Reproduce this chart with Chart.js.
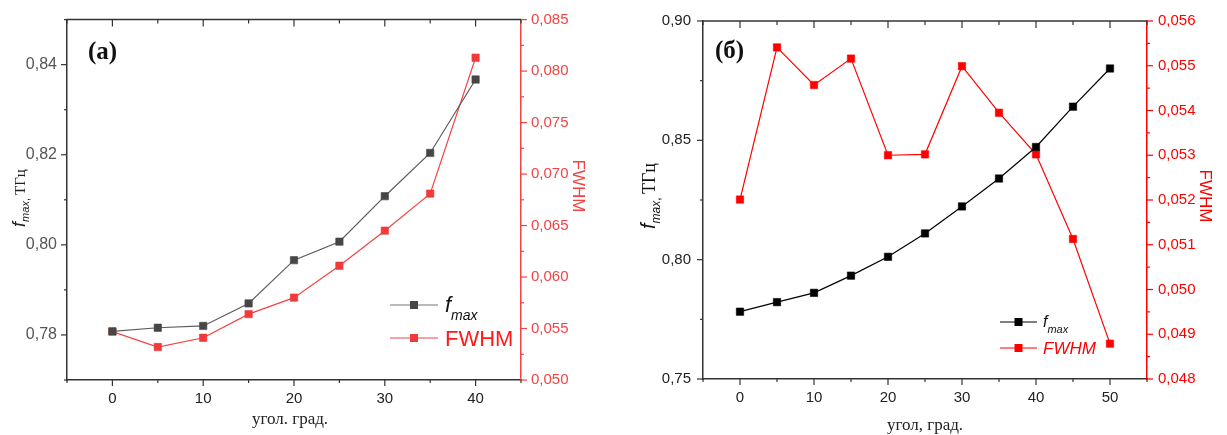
<!DOCTYPE html>
<html lang="ru">
<head>
<meta charset="UTF-8">
<title>f_max и FWHM в зависимости от угла</title>
<script src="https://cdn.jsdelivr.net/npm/chart.js"></script>
<style>
  body { margin: 0; background: #fff; }
  .panel { position: absolute; top: 0; height: 435px; }
  #panelA { left: 0; width: 600px; }
  #panelB { left: 600px; width: 627px; }
</style>
</head>
<body>
<div class="panel" id="panelA"><canvas id="chartA" width="600" height="435"></canvas></div>
<div class="panel" id="panelB"><canvas id="chartB" width="627" height="435"></canvas></div>
<script>
// panel (a)
const anglesA = [0, 5, 10, 15, 20, 25, 30, 35, 40];
const fmaxA = [0.7808, 0.7816, 0.7820, 0.7870, 0.7966, 0.8007, 0.8108, 0.8204, 0.8367];
const fwhmA = [0.0547, 0.0532, 0.0541, 0.0564, 0.0580, 0.0611, 0.0645, 0.0681, 0.0813];
const xTicksA = [0, 10, 20, 30, 40];
const xMinorA = [-5, 5, 15, 25, 35, 45];
const fTicksA = [0.78, 0.80, 0.82, 0.84];
const fMinorA = [0.77, 0.79, 0.81, 0.83, 0.85];
const wTicksA = [0.050, 0.055, 0.060, 0.065, 0.070, 0.075, 0.080, 0.085];
const wMinorA = [0.0525, 0.0575, 0.0625, 0.0675, 0.0725, 0.0775, 0.0825];

// panel (б)
const anglesB = [0, 5, 10, 15, 20, 25, 30, 35, 40, 45, 50];
const fmaxB = [0.7782, 0.7822, 0.7861, 0.7933, 0.8012, 0.8110, 0.8223, 0.8340, 0.8472, 0.8641, 0.8801];
const fwhmB = [0.05201, 0.05541, 0.05457, 0.05516, 0.05300, 0.05302, 0.05499, 0.05395, 0.05302, 0.05113, 0.04879];
const xTicksB = [0, 10, 20, 30, 40, 50];
const xMinorB = [-5, 5, 15, 25, 35, 45, 55];
const fTicksB = [0.75, 0.80, 0.85, 0.90];
const fMinorB = [0.775, 0.825, 0.875];
const wTicksB = [0.048, 0.049, 0.050, 0.051, 0.052, 0.053, 0.054, 0.055, 0.056];
const wMinorB = [0.0485, 0.0495, 0.0505, 0.0515, 0.0525, 0.0535, 0.0545, 0.0555];

const SANS = '"Liberation Sans", Arial, sans-serif';
const SERIF = '"Liberation Serif", "Times New Roman", serif';

const comma = d => v => Number(v).toFixed(d).replace('.', ',');

function axis(pos, min, max, major, fmt, color, labelColor, pad, size, fontSize) {
  return {
    type: 'linear', position: pos, min: min, max: max,
    grid: { display: false, drawTicks: false },
    border: { display: true, color: color, width: 1.5 },
    ticks: { color: labelColor, padding: pad, font: { family: SANS, size: fontSize || 15 }, callback: fmt },
    afterBuildTicks: s => { s.ticks = major.map(v => ({ value: v })); },
    afterFit: s => { if (s.isHorizontal()) s.height = size; else s.width = size; }
  };
}

// text made of pieces with their own font / baseline shift
function richWidth(ctx, parts) {
  let w = 0;
  parts.forEach(p => { ctx.font = p.font; w += ctx.measureText(p.t).width; });
  return w;
}
function drawRich(ctx, parts, x, y) {
  parts.forEach(p => {
    ctx.font = p.font;
    ctx.fillStyle = p.color;
    ctx.fillText(p.t, x, y + (p.dy || 0));
    x += ctx.measureText(p.t).width;
  });
}
function drawRotated(ctx, parts, x, cy, angle) {
  ctx.save();
  ctx.translate(x, cy);
  ctx.rotate(angle);
  drawRich(ctx, parts, -richWidth(ctx, parts) / 2, 0);
  ctx.restore();
}

// top frame line, major/minor tick marks, titles, panel letter and legend
function frame(cfg) {
  return {
    id: 'frame',
    afterDraw(chart) {
      const { ctx, chartArea: a, scales } = chart;
      ctx.save();
      ctx.lineWidth = 1.5;
      ctx.strokeStyle = cfg.axisColor;
      ctx.beginPath();
      ctx.moveTo(a.left - 0.75, a.top);
      ctx.lineTo(a.right, a.top);
      ctx.stroke();

      const seg = (x1, y1, x2, y2) => { ctx.beginPath(); ctx.moveTo(x1, y1); ctx.lineTo(x2, y2); ctx.stroke(); };
      ctx.lineWidth = 1.2;
      const xs = scales.x;
      xs.ticks.forEach(t => {
        const px = xs.getPixelForValue(t.value);
        seg(px, a.bottom, px, a.bottom + 6);
        seg(px, a.top, px, a.top + 7);
      });
      cfg.xMinor.forEach(v => {
        const px = xs.getPixelForValue(v);
        seg(px, a.bottom, px, a.bottom + 3);
        seg(px, a.top, px, a.top + 4);
      });
      const ys = scales.y;
      ys.ticks.forEach(t => { const py = ys.getPixelForValue(t.value); seg(a.left - 6, py, a.left, py); });
      cfg.fMinor.forEach(v => { const py = ys.getPixelForValue(v); seg(a.left - 3, py, a.left, py); });
      const y2 = scales.y2;
      ctx.strokeStyle = cfg.rightColor;
      y2.ticks.forEach(t => { const py = y2.getPixelForValue(t.value); seg(a.right, py, a.right + 6, py); });
      cfg.wMinor.forEach(v => { const py = y2.getPixelForValue(v); seg(a.right, py, a.right + 3, py); });

      ctx.textBaseline = 'alphabetic';
      ctx.textAlign = 'left';
      // panel letter
      ctx.font = 'bold ' + cfg.letter.size + 'px ' + SERIF;
      ctx.fillStyle = '#111';
      ctx.fillText(cfg.letter.t, cfg.letter.x, cfg.letter.y);
      // x title
      ctx.font = '17px ' + SERIF;
      ctx.textAlign = 'center';
      ctx.fillStyle = '#222';
      ctx.fillText(cfg.xTitle.t, cfg.xTitle.x, cfg.xTitle.y);
      ctx.textAlign = 'left';
      // y titles
      drawRotated(ctx, cfg.yTitle.parts, cfg.yTitle.x, cfg.yTitle.y, -Math.PI / 2);
      drawRotated(ctx, cfg.y2Title.parts, cfg.y2Title.x, cfg.y2Title.y, Math.PI / 2);

      // legend
      const lg = cfg.legend;
      lg.rows.forEach(r => {
        ctx.strokeStyle = r.line;
        ctx.lineWidth = 1.2;
        seg(lg.x1, r.y, lg.x2, r.y);
        ctx.fillStyle = r.mark;
        ctx.fillRect((lg.x1 + lg.x2) / 2 - 4, r.y - 4, 8, 8);
        drawRich(ctx, r.parts, lg.tx, r.y + r.base);
      });
      ctx.restore();
    }
  };
}

function dataset(xs, ys, axisId, line, mark) {
  return {
    data: xs.map((x, i) => ({ x: x, y: ys[i] })),
    yAxisID: axisId,
    borderColor: line,
    borderWidth: 1.2,
    pointStyle: 'rect',
    pointRadius: 5.2,
    pointBackgroundColor: mark,
    pointBorderColor: mark,
    pointBorderWidth: 0.6,
    tension: 0,
    fill: false
  };
}

// (a)
const redA = '#f24444';
new Chart(document.getElementById('chartA'), {
  type: 'line',
  data: {
    datasets: [
      dataset(anglesA, fmaxA, 'y', '#5c5c5c', '#464646'),
      dataset(anglesA, fwhmA, 'y2', redA, '#ef3b3b')
    ]
  },
  options: {
    responsive: false,
    animation: false,
    layout: { padding: { top: 15, left: 0, right: 0, bottom: 0 } },
    plugins: { legend: { display: false }, tooltip: { enabled: false } },
    scales: {
      x: axis('bottom', -5, 45, xTicksA, v => String(v), '#333', '#222', 10, 55),
      y: axis('left', 0.77, 0.85, fTicksA, comma(2), '#333', '#555', 10, 67, 16),
      y2: axis('right', 0.050, 0.085, wTicksA, comma(3), redA, redA, 10, 79)
    }
  },
  plugins: [frame({
    axisColor: '#333', rightColor: redA,
    xMinor: xMinorA, fMinor: fMinorA, wMinor: wMinorA,
    letter: { t: '(a)', x: 88, y: 59, size: 25 },
    xTitle: { t: 'угол. град.', x: 290, y: 424 },
    yTitle: { x: 25, y: 198, parts: [
      { t: 'f', font: 'italic 18px ' + SANS, color: '#222' },
      { t: 'max', font: 'italic 11px ' + SANS, color: '#222', dy: 4 },
      { t: ', ', font: '11px ' + SANS, color: '#222', dy: 4 },
      { t: 'ТГц', font: '15px ' + SERIF, color: '#222' }
    ] },
    y2Title: { x: 573, y: 186, parts: [{ t: 'FWHM', font: '17px ' + SANS, color: redA }] },
    legend: { x1: 390, x2: 438, tx: 445, rows: [
      { y: 305, line: '#777', mark: '#464646', base: 7, parts: [
        { t: 'f', font: 'italic 22px ' + SANS, color: '#111' },
        { t: 'max', font: 'italic 14px ' + SANS, color: '#111', dy: 8 }
      ] },
      { y: 338, line: redA, mark: '#ef3b3b', base: 8, parts: [
        { t: 'FWHM', font: '22px ' + SANS, color: '#ff1a1a' }
      ] }
    ] }
  })]
});

// (б)
new Chart(document.getElementById('chartB'), {
  type: 'line',
  data: {
    datasets: [
      dataset(anglesB, fmaxB, 'y', '#000', '#000'),
      dataset(anglesB, fwhmB, 'y2', '#ff0000', '#ff0000')
    ]
  },
  options: {
    responsive: false,
    animation: false,
    layout: { padding: { top: 15, left: 0, right: 0, bottom: 0 } },
    plugins: { legend: { display: false }, tooltip: { enabled: false } },
    scales: {
      x: axis('bottom', -5, 55, xTicksB, v => String(v), '#333', '#222', 10, 56),
      y: axis('left', 0.75, 0.90, fTicksB, comma(2), '#333', '#222', 12, 103),
      y2: axis('right', 0.048, 0.056, wTicksB, comma(3), '#ff0000', '#ff0000', 11, 80)
    }
  },
  plugins: [frame({
    axisColor: '#333', rightColor: '#ff0000',
    xMinor: xMinorB, fMinor: fMinorB, wMinor: wMinorB,
    letter: { t: '(б)', x: 115, y: 58, size: 25 },
    xTitle: { t: 'угол, град.', x: 325, y: 430 },
    yTitle: { x: 55, y: 196, parts: [
      { t: 'f', font: 'italic 20px ' + SANS, color: '#111' },
      { t: 'max', font: 'italic 12px ' + SANS, color: '#111', dy: 5 },
      { t: ', ', font: '12px ' + SANS, color: '#111', dy: 5 },
      { t: 'ТГц', font: '18px ' + SERIF, color: '#111' }
    ] },
    y2Title: { x: 600, y: 196, parts: [{ t: 'FWHM', font: '17px ' + SANS, color: '#ff0000' }] },
    legend: { x1: 400, x2: 437, tx: 443, rows: [
      { y: 322, line: '#000', mark: '#000', base: 5, parts: [
        { t: 'f', font: 'italic 16px ' + SANS, color: '#111' },
        { t: 'max', font: 'italic 11px ' + SANS, color: '#111', dy: 6 }
      ] },
      { y: 348, line: '#ff0000', mark: '#ff0000', base: 6, parts: [
        { t: 'FWHM', font: 'italic 17px ' + SANS, color: '#ff0000' }
      ] }
    ] }
  })]
});
</script>
</body>
</html>
